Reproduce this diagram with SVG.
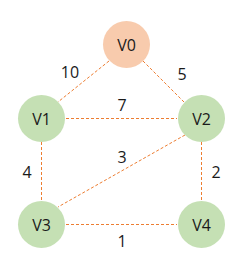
<svg xmlns="http://www.w3.org/2000/svg" width="240" height="265" viewBox="0 0 240 265">
<style>
.e{stroke:#ED7D31;stroke-width:1;stroke-dasharray:3 2;fill:none}
.n circle{stroke:none}
.g{fill:#C5E0B4}
.o{fill:#F8CBAD}
text{font-family:"Open Sans","Noto Sans",sans-serif;font-size:16px;fill:#1a1a1a;text-anchor:middle;dominant-baseline:central}
</style>
<rect width="240" height="265" fill="#fff"/>
<g id="edges">
<line class="e" x1="109" y1="61" x2="58" y2="102"/>
<line class="e" x1="143" y1="61" x2="184" y2="102"/>
<line class="e" x1="66" y1="118.5" x2="177" y2="118.5"/>
<line class="e" x1="41.5" y1="142" x2="41.5" y2="201"/>
<line class="e" x1="201.5" y1="142" x2="201.5" y2="201"/>
<line class="e" x1="185" y1="135" x2="58" y2="207"/>
<line class="e" x1="66" y1="224.5" x2="177" y2="224.5"/>
<text x="70" y="72">10</text>
<text x="182" y="74">5</text>
<text x="122" y="105">7</text>
<text x="27" y="172">4</text>
<text x="122" y="157">3</text>
<text x="216" y="172">2</text>
<text x="122" y="241">1</text>
</g>
<g id="V0" class="n"><circle class="o" cx="126.5" cy="44.5" r="23.5"/><text x="126.5" y="44.5">V0</text></g>
<g id="V1" class="n"><circle class="g" cx="41.5" cy="118.5" r="23.5"/><text x="41.5" y="118.5">V1</text></g>
<g id="V2" class="n"><circle class="g" cx="201.5" cy="118.5" r="23.5"/><text x="201.5" y="118.5">V2</text></g>
<g id="V3" class="n"><circle class="g" cx="41.5" cy="224.5" r="23.5"/><text x="41.5" y="224.5">V3</text></g>
<g id="V4" class="n"><circle class="g" cx="201.5" cy="224.5" r="23.5"/><text x="201.5" y="224.5">V4</text></g>
</svg>
